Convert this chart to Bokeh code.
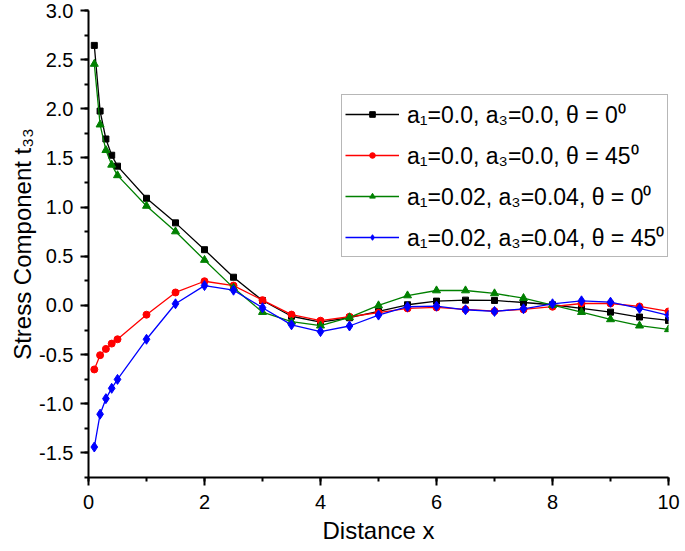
from bokeh.plotting import figure
from bokeh.models import Legend, LegendItem, SingleIntervalTicker, NumeralTickFormatter, Range1d
from bokeh.embed import file_html
from bokeh.resources import INLINE

x = [0.1, 0.2, 0.3, 0.4, 0.5, 1.0, 1.5, 2.0, 2.5, 3.0, 3.5, 4.0, 4.5, 5.0,
     5.5, 6.0, 6.5, 7.0, 7.5, 8.0, 8.5, 9.0, 9.5, 10.0]

black = [2.645, 1.977, 1.693, 1.528, 1.417, 1.09, 0.84, 0.567, 0.287, 0.05,
         -0.11, -0.169, -0.125, -0.061, 0.007, 0.044, 0.054, 0.051, 0.030,
         0.007, -0.03, -0.068, -0.118, -0.152]
red = [-0.651, -0.506, -0.442, -0.388, -0.344, -0.094, 0.132, 0.246, 0.202,
       0.054, -0.093, -0.155, -0.115, -0.074, -0.03, -0.02, -0.04, -0.058,
       -0.04, -0.013, 0.02, 0.02, -0.01, -0.061]
green = [2.456, 1.839, 1.579, 1.43, 1.323, 1.012, 0.752, 0.462, 0.179,
         -0.068, -0.165, -0.206, -0.122, 0.0, 0.101, 0.152, 0.152, 0.122,
         0.074, 0.003, -0.068, -0.142, -0.206, -0.243]
blue = [-1.44, -1.106, -0.948, -0.843, -0.752, -0.344, 0.017, 0.202, 0.155,
        -0.023, -0.197, -0.266, -0.209, -0.098, -0.013, -0.007, -0.044,
        -0.061, -0.034, 0.017, 0.047, 0.033, -0.03, -0.101]

labels = ["a\u2081=0.0, a\u2083=0.0, \u03b8 = 0\u2070",
          "a\u2081=0.0, a\u2083=0.0, \u03b8 = 45\u2070",
          "a\u2081=0.02, a\u2083=0.04, \u03b8 = 0\u2070",
          "a\u2081=0.02, a\u2083=0.04, \u03b8 = 45\u2070"]

FONT = "Liberation Sans"

p = figure(width=680, height=550, output_backend="svg", toolbar_location=None,
           x_range=Range1d(0, 10), y_range=Range1d(-1.75, 3.0),
           min_border_left=88, min_border_right=12, min_border_top=10,
           min_border_bottom=73)
p.outline_line_color = None
p.xgrid.visible = False
p.ygrid.visible = False
p.background_fill_color = "white"

for ax in (p.xaxis[0], p.yaxis[0]):
    ax.axis_line_width = 2
    ax.axis_line_color = "black"
    ax.major_tick_line_width = 2
    ax.minor_tick_line_width = 2
    ax.major_tick_out = 8
    ax.major_tick_in = 0
    ax.minor_tick_out = 4
    ax.minor_tick_in = 0
    ax.major_label_text_font = FONT
    ax.major_label_text_font_size = "20px"
    ax.major_label_text_color = "black"
    ax.axis_label_text_font = FONT
    ax.axis_label_text_font_size = "24px"
    ax.axis_label_text_font_style = "normal"
    ax.axis_label_text_color = "black"

p.xaxis.ticker = SingleIntervalTicker(interval=2, num_minor_ticks=2)
p.yaxis.ticker = SingleIntervalTicker(interval=0.5, num_minor_ticks=2)
p.yaxis.formatter = NumeralTickFormatter(format="0.0")
p.xaxis.axis_label = "Distance x"
p.yaxis.axis_label = "Stress Component t\u2083\u2083"
p.xaxis.major_label_standoff = 9
p.xaxis.axis_label_standoff = 5
p.yaxis.major_label_standoff = 7
p.yaxis.axis_label_standoff = 0

series = [
    (black, "black", "square", 6),
    (red, "#ff0000", "circle", 7),
    (green, "#008000", "triangle", 8),
    (blue, "#0000ff", "diamond", 10),
]
items = []
for (ys, col, mk, sz), lab in zip(series, labels):
    ln = p.line(x, ys, line_color=col, line_width=1.3)
    sc = p.scatter(x, ys, marker=mk, size=sz, fill_color=col, line_color=col)
    items.append(LegendItem(label=lab, renderers=[ln, sc]))

legend = Legend(items=items, location=(253, 220))
legend.label_text_font = FONT
legend.label_text_font_size = "23px"
legend.label_text_color = "black"
legend.glyph_width = 54
legend.glyph_height = 14
legend.label_height = 26
legend.spacing = 9
legend.padding = 3
legend.margin = 0
legend.label_standoff = 8
legend.border_line_color = "#707070"
legend.border_line_width = 1.5
legend.background_fill_alpha = 1
p.add_layout(legend, "center")

open("out.html", "w").write(file_html(p, INLINE))
